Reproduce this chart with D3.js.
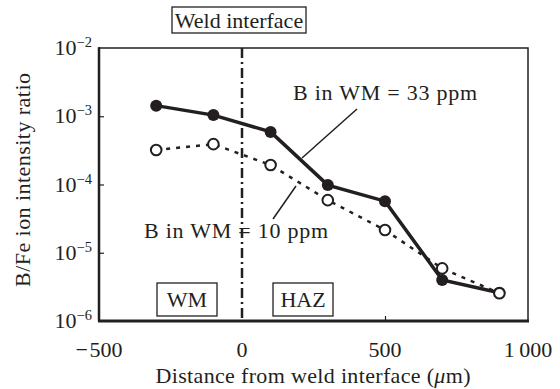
<!DOCTYPE html>
<html><head><meta charset="utf-8">
<script src="https://cdn.jsdelivr.net/npm/d3@7"></script>
<style>
body{margin:0;background:#fff;}
text{font-family:"Liberation Serif","Times New Roman",serif;fill:#231f20;}
</style></head>
<body><svg id="c" width="560" height="389"></svg>
<script>
const xPos = [-300, -100, 100, 300, 500, 700, 900];
const b33 = [1.43e-3, 1.04e-3, 5.9e-4, 9.8e-5, 5.7e-5, 4.0e-6, 2.6e-6];
const b10 = [3.2e-4, 3.9e-4, 1.93e-4, 5.9e-5, 2.15e-5, 5.9e-6, 2.55e-6];
const xTicks = [-500, 0, 500, 1000];
const xTickLabels = ["\u2212\u200a500", "0", "500", "1\u2009000"];
const yTicks = [1e-2, 1e-3, 1e-4, 1e-5, 1e-6];
const yExp = ["\u22122", "\u22123", "\u22124", "\u22125", "\u22126"];
const label33 = "B in WM = 33 ppm";
const label10 = "B in WM = 10 ppm";

const col = "#231f20";
const svg = d3.select("#c");
const L = 99, R = 528, T = 48, B = 321;
const x = d3.scaleLinear().domain([-500, 1000]).range([L, R]);
const y = d3.scaleLog().domain([1e-6, 1e-2]).range([B, T]);

// frame
svg.append("rect").attr("x", L).attr("y", T).attr("width", R - L).attr("height", B - T)
  .attr("fill", "none").attr("stroke", col).attr("stroke-width", 1.5);

// axes with inward ticks
const xAxis = svg.append("g").attr("transform", `translate(0,${B})`)
  .call(d3.axisBottom(x).tickValues([500]).tickSize(-5).tickFormat(""));
xAxis.select(".domain").remove();
xAxis.selectAll("line").attr("stroke", col).attr("stroke-width", 1.2);
const yAxis = svg.append("g").attr("transform", `translate(${L},0)`)
  .call(d3.axisLeft(y).tickValues(yTicks.slice(1, 4)).tickSize(-5).tickFormat(""));
yAxis.select(".domain").remove();
yAxis.selectAll("line").attr("stroke", col).attr("stroke-width", 1.2);

svg.append("line").attr("x1", L - 1).attr("x2", R + 1).attr("y1", B).attr("y2", B)
  .attr("stroke", col).attr("stroke-width", 3);
svg.append("line").attr("x1", L).attr("x2", L).attr("y1", T - 0.75).attr("y2", B)
  .attr("stroke", col).attr("stroke-width", 2.5);

// tick labels
svg.selectAll(".xl").data(xTicks).enter().append("text")
  .attr("x", d => x(d)).attr("y", 357).attr("text-anchor", "middle")
  .attr("font-size", 22).text((d, i) => xTickLabels[i]);
yTicks.forEach((d, i) => {
  const t = svg.append("text").attr("x", 92).attr("y", y(d) + 7).attr("text-anchor", "end").attr("font-size", 22);
  t.append("tspan").text("10");
  t.append("tspan").attr("dy", -8).attr("font-size", 14.5).text(yExp[i]);
});

// axis titles
svg.append("text").attr("x", 313).attr("y", 383).attr("text-anchor", "middle").attr("font-size", 22)
  .attr("textLength", 315).attr("lengthAdjust", "spacing")
  .html('Distance from weld interface (<tspan font-style="italic">\u03bc</tspan>m)');
svg.append("text").attr("transform", `translate(30,180) rotate(-90)`)
  .attr("text-anchor", "middle").attr("font-size", 22).attr("textLength", 214).attr("lengthAdjust", "spacing")
  .text("B/Fe ion intensity ratio");

// weld interface line
svg.append("line").attr("x1", x(0)).attr("x2", x(0)).attr("y1", T).attr("y2", B)
  .attr("stroke", col).attr("stroke-width", 2.5).attr("stroke-dasharray", "10,4,2,4");

// boxes
function box(x0, x1, y0, y1, txt, fs) {
  svg.append("rect").attr("x", x0).attr("y", y0).attr("width", x1 - x0).attr("height", y1 - y0)
    .attr("fill", "#fff").attr("stroke", col).attr("stroke-width", 1.3);
  svg.append("text").attr("x", (x0 + x1) / 2).attr("y", (y0 + y1) / 2 + 7.5).attr("text-anchor", "middle")
    .attr("font-size", fs).text(txt);
}
box(172, 306, 7, 33, "Weld interface", 22);
box(157, 217, 283, 316, "WM", 22);
box(273, 333, 283, 316, "HAZ", 22);

// lines
const line = d3.line().x((d, i) => x(xPos[i])).y(d => y(d));
svg.append("path").datum(b33).attr("d", line).attr("fill", "none").attr("stroke", col)
  .attr("stroke-width", 3.5);
svg.selectAll(".f").data(b33).enter().append("circle")
  .attr("cx", (d, i) => x(xPos[i])).attr("cy", d => y(d)).attr("r", 6)
  .attr("fill", col);
svg.append("path").datum(b10).attr("d", line).attr("fill", "none").attr("stroke", col)
  .attr("stroke-width", 2.5).attr("stroke-dasharray", "4,6");
svg.selectAll(".o").data(b10).enter().append("circle")
  .attr("cx", (d, i) => x(xPos[i])).attr("cy", d => y(d)).attr("r", 5.3)
  .attr("fill", "#fff").attr("stroke", col).attr("stroke-width", 2);

// annotations
svg.append("text").attr("x", 293).attr("y", 100).attr("font-size", 22)
  .attr("textLength", 184).attr("lengthAdjust", "spacing").text(label33);
svg.append("line").attr("x1", 357).attr("y1", 109).attr("x2", 302).attr("y2", 158)
  .attr("stroke", col).attr("stroke-width", 1.5);
svg.append("text").attr("x", 144).attr("y", 238).attr("font-size", 22)
  .attr("textLength", 184).attr("lengthAdjust", "spacing").text(label10);
svg.append("line").attr("x1", 273).attr("y1", 219).attr("x2", 296).attr("y2", 186)
  .attr("stroke", col).attr("stroke-width", 1.5);
</script></body></html>
